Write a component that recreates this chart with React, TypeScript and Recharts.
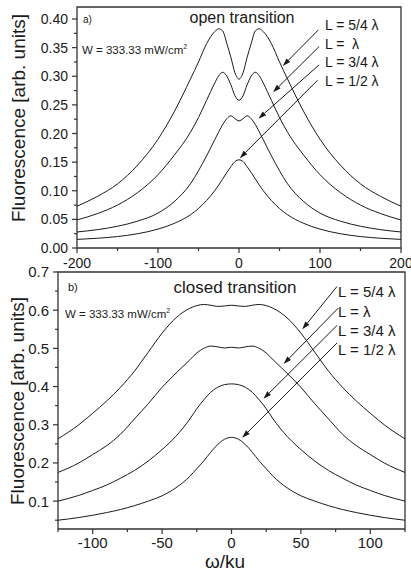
import { LineChart, Line, XAxis, YAxis, ReferenceArea, ReferenceLine } from "recharts";

// ---- panel a) open transition ----
const openOmega = [-200, -175, -150, -125, -100, -80, -60, -50, -40, -30, -25, -20, -15, -10, -5, 0, 5, 10, 15, 20, 25, 30, 40, 50, 60, 80, 100, 125, 150, 175, 200];
const openL54 = [0.073, 0.09, 0.112, 0.145, 0.19, 0.238, 0.295, 0.325, 0.357, 0.378, 0.383, 0.379, 0.357, 0.333, 0.306, 0.295, 0.306, 0.333, 0.357, 0.379, 0.383, 0.378, 0.357, 0.325, 0.295, 0.238, 0.19, 0.145, 0.112, 0.09, 0.073];
const openL1 = [0.049, 0.06, 0.075, 0.097, 0.128, 0.162, 0.202, 0.228, 0.258, 0.288, 0.301, 0.307, 0.3, 0.285, 0.266, 0.258, 0.266, 0.285, 0.3, 0.307, 0.301, 0.288, 0.258, 0.228, 0.202, 0.162, 0.128, 0.097, 0.075, 0.06, 0.049];
const openL34 = [0.028, 0.032, 0.038, 0.047, 0.061, 0.081, 0.112, 0.135, 0.161, 0.189, 0.203, 0.216, 0.226, 0.231, 0.226, 0.222, 0.226, 0.231, 0.226, 0.216, 0.203, 0.189, 0.161, 0.135, 0.112, 0.081, 0.061, 0.047, 0.038, 0.032, 0.028];
const openL12 = [0.015, 0.017, 0.02, 0.025, 0.033, 0.043, 0.058, 0.069, 0.083, 0.1, 0.11, 0.121, 0.132, 0.142, 0.151, 0.154, 0.151, 0.142, 0.132, 0.121, 0.11, 0.1, 0.083, 0.069, 0.058, 0.043, 0.033, 0.025, 0.02, 0.017, 0.015];
const openXTicks = [-200, -150, -100, -50, 0, 50, 100, 150, 200];
const openXLabels = [-200, -100, 0, 100, 200];
const openYTicks = [0, 0.025, 0.05, 0.075, 0.1, 0.125, 0.15, 0.175, 0.2, 0.225, 0.25, 0.275, 0.3, 0.325, 0.35, 0.375, 0.4];
const openYLabels = [0, 0.05, 0.1, 0.15, 0.2, 0.25, 0.3, 0.35, 0.4];

// ---- panel b) closed transition ----
const closedOmega = [-125, -110, -100, -90, -80, -70, -60, -50, -40, -30, -25, -20, -15, -10, -5, 0, 5, 10, 15, 20, 25, 30, 40, 50, 60, 70, 80, 90, 100, 110, 125];
const closedL54 = [0.263, 0.3, 0.33, 0.362, 0.398, 0.44, 0.49, 0.54, 0.58, 0.605, 0.612, 0.615, 0.613, 0.61, 0.611, 0.613, 0.611, 0.61, 0.613, 0.615, 0.612, 0.605, 0.58, 0.54, 0.49, 0.44, 0.398, 0.362, 0.33, 0.3, 0.263];
const closedL1 = [0.175, 0.2, 0.222, 0.245, 0.275, 0.315, 0.355, 0.398, 0.435, 0.47, 0.488, 0.5, 0.506, 0.504, 0.501, 0.503, 0.501, 0.504, 0.506, 0.5, 0.488, 0.47, 0.435, 0.398, 0.355, 0.315, 0.275, 0.245, 0.222, 0.2, 0.175];
const closedL34 = [0.1, 0.115, 0.128, 0.142, 0.16, 0.18, 0.205, 0.235, 0.27, 0.315, 0.342, 0.365, 0.385, 0.398, 0.405, 0.407, 0.405, 0.398, 0.385, 0.365, 0.342, 0.315, 0.27, 0.235, 0.205, 0.18, 0.16, 0.142, 0.128, 0.115, 0.1];
const closedL12 = [0.05, 0.057, 0.063, 0.07, 0.078, 0.088, 0.1, 0.114, 0.135, 0.165, 0.185, 0.205, 0.228, 0.248, 0.262, 0.267, 0.262, 0.248, 0.228, 0.205, 0.185, 0.165, 0.135, 0.114, 0.1, 0.088, 0.078, 0.07, 0.063, 0.057, 0.05];
const closedXTicks = [-125, -100, -75, -50, -25, 0, 25, 50, 75, 100, 125];
const closedXLabels = [-100, -50, 0, 50, 100];
const closedYTicks = [0.05, 0.1, 0.15, 0.2, 0.25, 0.3, 0.35, 0.4, 0.45, 0.5, 0.55, 0.6, 0.65, 0.7];
const closedYLabels = [0.1, 0.2, 0.3, 0.4, 0.5, 0.6, 0.7];

const seriesKeys = ["l54", "l1", "l34", "l12"];

const openRows = openOmega.map((w, i) => ({ w, l54: openL54[i], l1: openL1[i], l34: openL34[i], l12: openL12[i] }));
const closedRows = closedOmega.map((w, i) => ({ w, l54: closedL54[i], l1: closedL1[i], l34: closedL34[i], l12: closedL12[i] }));

// arrows: [from, to] in data coordinates
const openArrows = [
  [{ x: 98, y: 0.381 }, { x: 54, y: 0.318 }],
  [{ x: 99, y: 0.352 }, { x: 42, y: 0.272 }],
  [{ x: 99, y: 0.32 }, { x: 24, y: 0.226 }],
  [{ x: 97, y: 0.293 }, { x: 1, y: 0.157 }],
];
const closedArrows = [
  [{ x: 76, y: 0.662 }, { x: 51, y: 0.55 }],
  [{ x: 77, y: 0.606 }, { x: 37.5, y: 0.459 }],
  [{ x: 76, y: 0.56 }, { x: 23, y: 0.368 }],
  [{ x: 76, y: 0.514 }, { x: 7.7, y: 0.266 }],
];

const FONT = "Arial, 'Liberation Sans', sans-serif";
const INK = "#1a1a1a";
const AXIS = "#333";

function xTick(labels: number[], fontSize: number, offset: number) {
  return (props: any) => {
    const { x, y, payload } = props;
    const major = labels.includes(payload.value);
    return (
      <g>
        <line x1={x} x2={x} y1={y} y2={y + (major ? 5 : 3)} stroke={AXIS} strokeWidth={1.2} />
        {major && (
          <text x={x} y={y + offset} dy="0.72em" textAnchor="middle" fontSize={fontSize} fontFamily={FONT} fill={INK}>
            {payload.value}
          </text>
        )}
      </g>
    );
  };
}

function yTick(labels: number[], digits: number, fontSize: number) {
  return (props: any) => {
    const { x, y, payload } = props;
    const major = labels.some((l) => Math.abs(l - payload.value) < 1e-6);
    return (
      <g>
        <line x1={x} x2={x - (major ? 5 : 3)} y1={y} y2={y} stroke={AXIS} strokeWidth={1.2} />
        {major && (
          <text x={x - 9} y={y} dy="0.36em" textAnchor="end" fontSize={fontSize} fontFamily={FONT} fill={INK}>
            {payload.value.toFixed(digits)}
          </text>
        )}
      </g>
    );
  };
}

function Arrow(props: any) {
  const { x1, y1, x2, y2 } = props;
  const ang = Math.atan2(y2 - y1, x2 - x1);
  const len = 8;
  const half = 2.6;
  const bx = x2 - len * Math.cos(ang);
  const by = y2 - len * Math.sin(ang);
  const px = -Math.sin(ang) * half;
  const py = Math.cos(ang) * half;
  return (
    <g>
      <line x1={x1} y1={y1} x2={bx} y2={by} stroke={INK} strokeWidth={1} />
      <polygon points={`${x2},${y2} ${bx + px},${by + py} ${bx - px},${by - py}`} fill={INK} />
    </g>
  );
}

function Panel({ rows, xDomain, yDomain, xTicks, yTicks, xT, yT, arrows, width, height, margin, yWidth }: any) {
  return (
    <LineChart width={width} height={height} data={rows} margin={margin}>
      <XAxis
        type="number"
        dataKey="w"
        domain={xDomain}
        ticks={xTicks}
        allowDataOverflow
        interval={0}
        height={30}
        tickSize={0}
        tickMargin={0}
        axisLine={false}
        tickLine={false}
        tick={xT}
      />
      <YAxis
        type="number"
        domain={yDomain}
        ticks={yTicks}
        allowDataOverflow
        interval={0}
        width={yWidth}
        tickSize={0}
        tickMargin={0}
        axisLine={false}
        tickLine={false}
        tick={yT}
      />
      {seriesKeys.map((k) => (
        <Line key={k} type="monotone" dataKey={k} stroke={INK} strokeWidth={1} dot={false} isAnimationActive={false} />
      ))}
      <ReferenceArea x1={xDomain[0]} x2={xDomain[1]} y1={yDomain[0]} y2={yDomain[1]} fill="none" stroke={AXIS} strokeWidth={1.3} ifOverflow="visible" />
      {arrows.map((seg: any, i: number) => (
        <ReferenceLine key={i} segment={seg} ifOverflow="visible" shape={Arrow} />
      ))}
    </LineChart>
  );
}

export default function App() {
  const txt = { fontFamily: FONT, fill: INK } as const;
  return (
    <div style={{ position: "absolute", left: 0, top: 0, width: 411, height: 571, background: "#fff" }}>
      <div style={{ position: "absolute", left: 0, top: 0 }}>
        <Panel
          rows={openRows}
          xDomain={[-200, 200]}
          yDomain={[0, 0.421]}
          xTicks={openXTicks}
          yTicks={openYTicks}
          xT={xTick(openXLabels, 14, 10)}
          yT={yTick(openYLabels, 2, 14)}
          arrows={openArrows}
          width={411}
          height={285}
          margin={{ top: 7, right: 10, left: 0, bottom: 7 }}
          yWidth={77}
        />
      </div>
      <div style={{ position: "absolute", left: 0, top: 265 }}>
        <Panel
          rows={closedRows}
          xDomain={[-125, 125]}
          yDomain={[0.027, 0.7]}
          xTicks={closedXTicks}
          yTicks={closedYTicks}
          xT={xTick(closedXLabels, 15, 8)}
          yT={yTick(closedYLabels, 1, 15)}
          arrows={closedArrows}
          width={411}
          height={306}
          margin={{ top: 7, right: 6, left: 0, bottom: 12 }}
          yWidth={58}
        />
      </div>
      <svg width={411} height={571} style={{ position: "absolute", left: 0, top: 0, pointerEvents: "none" }}>
        {/* panel a */}
        <text x={83} y={19} fontSize={10} dy="0.35em" {...txt}>a)</text>
        <text x={242} y={17} fontSize={16} dy="0.35em" textAnchor="middle" {...txt}>open transition</text>
        <text x={82} y={50} fontSize={11.5} dy="0.35em" {...txt}>
          W = 333.33 mW/cm<tspan fontSize={7} dy={-5}>2</tspan>
        </text>
        <text x={325} y={25} fontSize={14} dy="0.35em" {...txt}>L = 5/4 λ</text>
        <text x={325} y={44} fontSize={14} dy="0.35em" {...txt}>{"L =\u00a0\u00a0λ"}</text>
        <text x={325} y={62} fontSize={14} dy="0.35em" {...txt}>L = 3/4 λ</text>
        <text x={325} y={81} fontSize={14} dy="0.35em" {...txt}>L = 1/2 λ</text>
        <text transform="translate(18,118) rotate(-90)" fontSize={19} dy="0.35em" textAnchor="middle" {...txt}>
          Fluorescence [arb. units]
        </text>
        {/* panel b */}
        <text x={68} y={287} fontSize={11} dy="0.35em" {...txt}>b)</text>
        <text x={235} y={287} fontSize={17} dy="0.35em" textAnchor="middle" {...txt}>closed transition</text>
        <text x={65} y={314} fontSize={11.5} dy="0.35em" {...txt}>
          W = 333.33 mW/cm<tspan fontSize={7} dy={-5}>2</tspan>
        </text>
        <text x={338} y={292} fontSize={15} dy="0.35em" {...txt}>L = 5/4 λ</text>
        <text x={338} y={312} fontSize={15} dy="0.35em" {...txt}>L = λ</text>
        <text x={338} y={331} fontSize={15} dy="0.35em" {...txt}>L = 3/4 λ</text>
        <text x={338} y={350} fontSize={15} dy="0.35em" {...txt}>L = 1/2 λ</text>
        <text transform="translate(17,401) rotate(-90)" fontSize={19} dy="0.35em" textAnchor="middle" {...txt}>
          Fluorescence [arb. units]
        </text>
        <text x={225} y={561} fontSize={19} dy="0.35em" textAnchor="middle" {...txt}>ω/ku</text>
      </svg>
    </div>
  );
}
